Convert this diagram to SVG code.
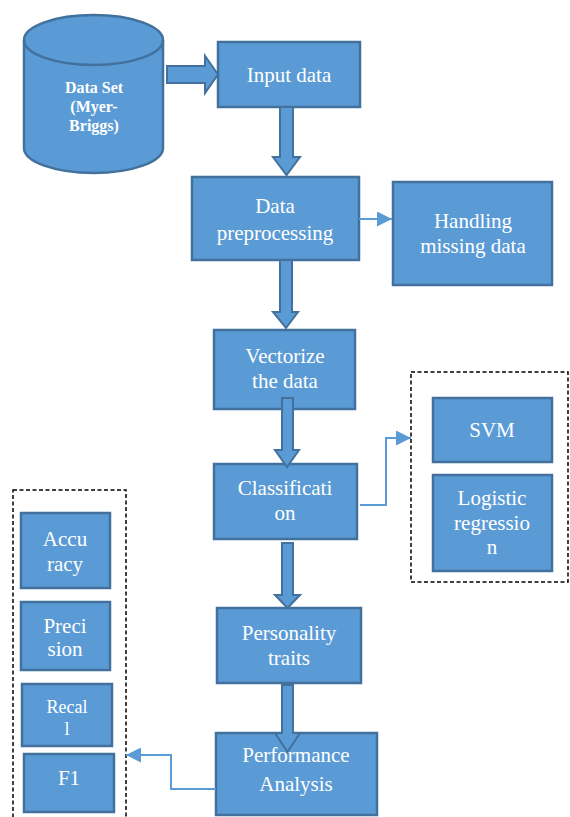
<svg xmlns="http://www.w3.org/2000/svg" width="570" height="817" viewBox="0 0 570 817">
<defs>
<style>
.box{fill:#5B9BD5;stroke:#41719C;stroke-width:2.5}
text{font-family:'Liberation Serif','DejaVu Serif',serif;font-size:21px;fill:#fff;text-anchor:middle}
.blk{fill:#5B9BD5;stroke:#41719C;stroke-width:2;stroke-linejoin:miter}
.thin{fill:none;stroke:#5B9BD5;stroke-width:2}
.dash{fill:none;stroke:#000;stroke-width:1.5;stroke-dasharray:4 2.5}
</style>
<marker id="ah" viewBox="0 0 10 10" refX="10" refY="5" markerWidth="8" markerHeight="7.5" orient="auto" markerUnits="strokeWidth">
<path d="M0,0 L10,5 L0,10 z" fill="#5B9BD5"/>
</marker>
</defs>
<rect width="570" height="817" fill="#fff"/>

<g id="group-models"><rect class="dash" x="411" y="372" width="157" height="210"/></g>
<g id="group-metrics"><rect class="dash" x="13" y="490" width="113" height="340"/></g>

<g id="dataset">
<path class="box" d="M24,40 L24,148 A69.5,25 0 0 0 163,148 L163,40 A69.5,25 0 0 0 24,40 Z"/>
<path d="M24,40 A69.5,25 0 0 0 163,40" fill="none" stroke="#41719C" stroke-width="2.5"/>
<text x="94" y="93" font-weight="bold" style="font-size:16px">Data Set</text>
<text x="94" y="112" font-weight="bold" style="font-size:16px">(Myer-</text>
<text x="94" y="131" font-weight="bold" style="font-size:16px">Briggs)</text>
</g>

<g id="input"><rect class="box" x="218" y="42" width="142" height="65"/>
<text x="289" y="82">Input data</text></g>

<g id="preprocessing"><rect class="box" x="192" y="177" width="167" height="83"/>
<text x="275" y="213">Data</text>
<text x="275" y="240">preprocessing</text></g>

<g id="missing"><rect class="box" x="393" y="182" width="159" height="103"/>
<text x="473" y="228">Handling</text>
<text x="473" y="253">missing data</text></g>

<g id="vectorize"><rect class="box" x="214" y="330" width="141" height="79"/>
<text x="285" y="363">Vectorize</text>
<text x="285" y="388">the data</text></g>

<g id="classification"><rect class="box" x="214" y="464" width="143" height="75"/>
<text x="285" y="495">Classificati</text>
<text x="285" y="520">on</text></g>

<g id="svm"><rect class="box" x="433" y="398" width="119" height="64"/>
<text x="492" y="437">SVM</text></g>

<g id="logistic"><rect class="box" x="433" y="475" width="119" height="96"/>
<text x="492" y="505">Logistic</text>
<text x="492" y="530">regressio</text>
<text x="492" y="554">n</text></g>

<g id="personality"><rect class="box" x="217" y="608" width="144" height="75"/>
<text x="289" y="640">Personality</text>
<text x="289" y="665">traits</text></g>

<g id="performance"><rect class="box" x="216" y="733" width="161" height="82"/>
<text x="296" y="762">Performance</text>
<text x="296" y="791">Analysis</text></g>

<g id="accuracy"><rect class="box" x="21" y="513" width="89" height="75"/>
<text x="65" y="546">Accu</text>
<text x="65" y="571">racy</text></g>

<g id="precision"><rect class="box" x="21" y="602" width="89" height="68"/>
<text x="65" y="633">Preci</text>
<text x="65" y="656">sion</text></g>

<g id="recall"><rect class="box" x="22" y="684" width="90" height="62"/>
<text x="67" y="713" style="font-size:18px">Recal</text>
<text x="67" y="735" style="font-size:18px">l</text></g>

<g id="f1"><rect class="box" x="24" y="754" width="90" height="58"/>
<text x="69" y="785">F1</text></g>

<g id="connectors">
<polygon class="blk" points="167,66 205,66 205,56 218,74.5 205,93 205,83 167,83"/>
<polygon class="blk" points="280,107 293,107 293,157 300,157 286.5,175 273,157 280,157"/>
<polygon class="blk" points="280,260 292,260 292,312 298,312 286,328 273,312 280,312"/>
<polygon class="blk" points="282,398 293,398 293,450 299,450 287,467 275,450 282,450"/>
<polygon class="blk" points="282,543 293,543 293,595 300,595 287.5,608 275,595 282,595"/>
<polygon class="blk" points="282,685 293,685 293,733 300,733 287.5,752 275,733 282,733"/>
<path class="thin" d="M359,219 L392,219" marker-end="url(#ah)"/>
<path class="thin" d="M360,505 L386,505 L386,438 L411,438" marker-end="url(#ah)"/>
<path class="thin" d="M216,789 L171,789 L171,755 L126,755" marker-end="url(#ah)"/>
</g>
</svg>
